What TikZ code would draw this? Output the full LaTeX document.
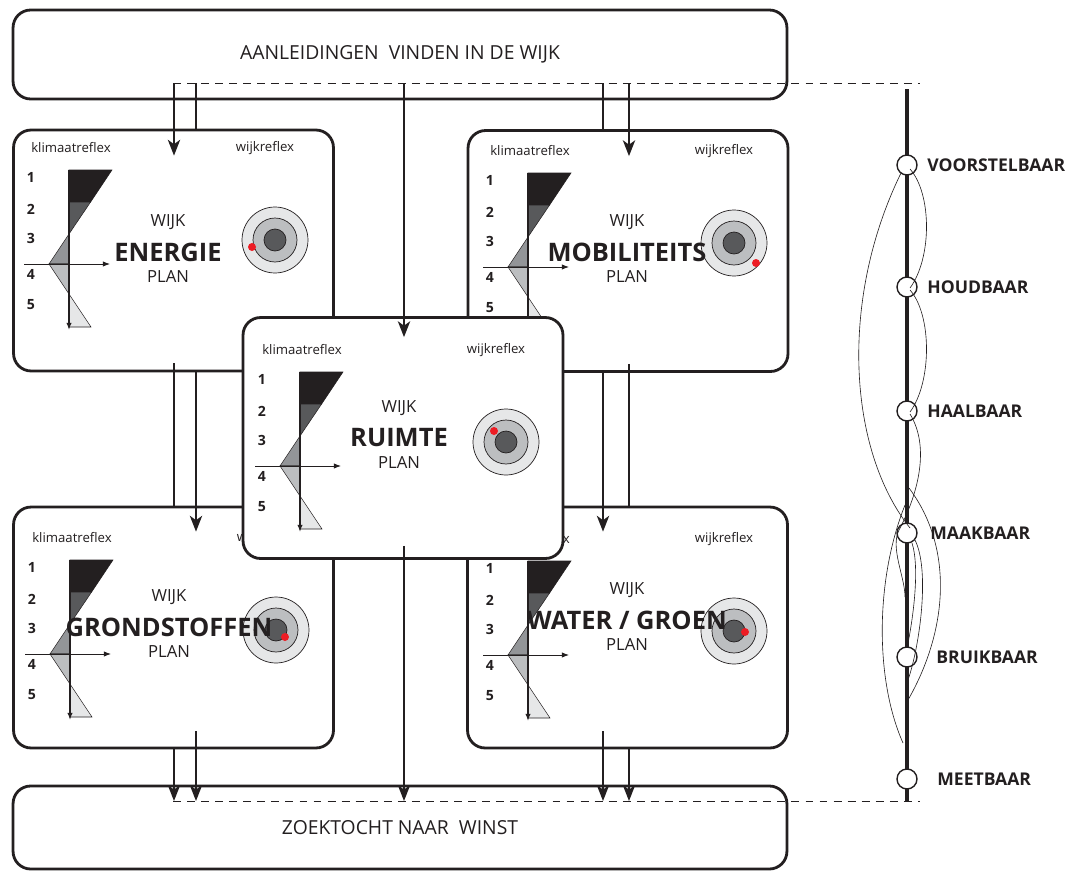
\documentclass[tikz,border=0pt]{standalone}
\usepackage{fontspec}
\setmainfont{Open Sans}
\usetikzlibrary{positioning,calc,arrows.meta}
\definecolor{inkt}{HTML}{231F20}
\definecolor{donker}{HTML}{58595B}
\definecolor{middel}{HTML}{939598}
\definecolor{licht}{HTML}{BCBEC0}
\definecolor{bleek}{HTML}{E6E7E8}
\definecolor{rood}{HTML}{ED1C24}

\begin{document}
\begin{tikzpicture}[x=0.02cm,y=-0.02cm,inkt,
  kader/.style={draw=inkt, line width=1.6pt, rounded corners=10pt, fill=white},
  plan/.style={kader, minimum width=6.4cm, minimum height=4.82cm},
  conn/.style={line width=1.1pt},
  pijl/.style={conn, -{Stealth[length=9pt,width=7pt,inset=2.5pt]}},
  streep/.style={line width=0.5pt, dash pattern=on 4.5pt off 3.5pt},
  vlak/.style={draw=inkt, line width=0.3pt},
  doel/.style={draw=inkt, line width=0.4pt},
  klein/.style={font=\fontsize{7.5}{9}\selectfont, inner sep=0},
  cijfer/.style={font=\bfseries\fontsize{8}{9}\selectfont, inner sep=0},
  wijktekst/.style={font=\fontsize{9.5}{11}\selectfont, inner sep=0},
  titel/.style={font=\bfseries\fontsize{14.5}{16}\selectfont, inner sep=0},
  mijlpaal/.style={circle, draw=inkt, fill=white, line width=0.8pt, minimum size=0.4cm, inner sep=0},
  fase/.style={anchor=west, font=\bfseries\fontsize{10}{12}\selectfont, inner sep=0},
  draad/.style={line width=0.35pt}]
  \useasboundingbox (0,0) rectangle (1085,872);

  % boven en onder
  \node[kader, minimum width=15.48cm, minimum height=1.78cm, font=\fontsize{11}{13}\selectfont] (aanleiding) at (400,54.5) {AANLEIDINGEN~ VINDEN IN DE WIJK};
  \node[kader, minimum width=15.48cm, minimum height=1.66cm, font=\fontsize{11}{13}\selectfont] (zoektocht) at (400,827.5) {ZOEKTOCHT NAAR~ WINST};

  % de vijf wijkplannen, ruimte als laatste bovenop
  \foreach \n/\cx/\cy/\ax/\ay/\titel/\ty/\dx/\dy in {
      energie/173.5/250.5/69/170/ENERGIE/82/-23/7,
      mobiliteits/628/251/528/173/MOBILITEITS/79/22/20,
      grondstoffen/173.5/627.5/70/560/GRONDSTOFFEN/67/9/7,
      water/627.5/627.5/528/561/{WATER / GROEN}/59/11/1,
      ruimte/403/438/300/372/RUIMTE/66/-12/-11} {
    \node[plan] (\n) at (\cx,\cy) {};
    \begin{scope}[shift={(\ax,\ay)}]
      \node[klein] (\n-klimaat) at (2,-22) {klimaatreflex};
      \node[klein] (\n-wijkreflex) at (196,-22) {wijkreflex};
      \foreach \k/\ny in {1/7,2/39,3/68,4/104,5/135}
        \node[cijfer] (\n-\k) at (-38,\ny) {\k};
      \filldraw[vlak, fill=inkt] (0,0) -- (43,0) -- (21.6,32) -- (0,32) -- cycle;
      \filldraw[vlak, fill=donker] (0,32) -- (21.6,32) -- (0,64) -- cycle;
      \filldraw[vlak, fill=middel] (0,64) -- (-20,94) -- (0,94) -- cycle;
      \filldraw[vlak, fill=licht] (0,94) -- (-20,94) -- (0,124) -- cycle;
      \filldraw[vlak, fill=bleek] (0,124) -- (22,157) -- (0,157) -- cycle;
      \draw[line width=1pt, -{Latex[length=4pt,width=3pt]}] (0,0) -- (0,160);
      \draw[line width=0.5pt, -{Latex[length=4pt,width=3pt]}] (-45,94) -- (41,94);
      \draw[doel, fill=bleek] (206,70) circle[radius=0.66cm];
      \draw[doel, fill=licht] (206,70) circle[radius=0.44cm];
      \draw[doel, fill=donker] (206,70) circle[radius=0.22cm];
      \node[wijktekst] (\n-wijk) at (99,\ty-30) {WIJK};
      \node[titel] (\n-titel) at (99,\ty) {\titel};
      \node[wijktekst] (\n-plan) at (99,\ty+25) {PLAN};
      \fill[rood] (206+\dx,70+\dy) circle[radius=0.08cm];
    \end{scope}
  }

  % stippellijnen en tijdas
  \coordinate (boven-l) at (173,83);
  \coordinate (boven-r) at (920,83);
  \coordinate (onder-l) at (173,801);
  \coordinate (onder-r) at (920,801);
  \draw[streep] (boven-l) -- (boven-r);
  \draw[streep] (onder-l) -- (onder-r);
  \coordinate (as-top) at (907,89);
  \coordinate (as-bot) at (907,801);
  \draw[line width=2.4pt] (as-top) -- (as-bot);

  % verbindingen
  \coordinate (xa) at (174,0);
  \coordinate (xb) at (196,0);
  \coordinate (xc) at (404,0);
  \coordinate (xd) at (603,0);
  \coordinate (xe) at (629,0);
  \draw[pijl] (xa |- boven-l) -- ($(energie.north -| xa)+(0,27)$);
  \draw[conn] (xb |- boven-l) -- (energie.north -| xb);
  \draw[pijl] (xc |- boven-l) -- ($(ruimte.north -| xc)+(0,21)$);
  \draw[conn] (xd |- boven-l) -- (mobiliteits.north -| xd);
  \draw[pijl] (xe |- boven-l) -- ($(mobiliteits.north -| xe)+(0,27)$);
  \draw[conn] ($(energie.south -| xa)+(0,-9)$) -- (grondstoffen.north -| xa);
  \draw[pijl] (energie.south -| xb) -- ($(grondstoffen.north -| xb)+(0,26)$);
  \draw[conn] ($(mobiliteits.south -| xe)+(0,-9)$) -- (water.north -| xe);
  \draw[pijl] (mobiliteits.south -| xd) -- ($(water.north -| xd)+(0,26)$);
  \draw[pijl] (grondstoffen.south -| xa) -- (xa |- onder-l);
  \draw[pijl] ($(grondstoffen.south -| xb)+(0,-18)$) -- (xb |- onder-l);
  \draw[pijl] ($(ruimte.south -| xc)+(0,-14)$) -- (xc |- onder-l);
  \draw[pijl] ($(water.south -| xd)+(0,-18)$) -- (xd |- onder-l);
  \draw[pijl] (water.south -| xe) -- (xe |- onder-l);

  % mijlpalen
  \foreach \n/\y/\lx/\t in {voorstelbaar/165/927/VOORSTELBAAR, houdbaar/287/927/HOUDBAAR,
      haalbaar/411/927/HAALBAAR, maakbaar/533/930/MAAKBAAR,
      bruikbaar/657/936/BRUIKBAAR, meetbaar/779/937/MEETBAAR} {
    \node[mijlpaal] (\n) at (907,\y) {};
    \node[fase] (\n-label) at (\lx,\y) {\t};
  }
  \draw[draad] ($(voorstelbaar)+(3,4)$) .. controls +(22,25) and +(22,-30) .. ($(houdbaar)+(3,1)$);
  \draw[draad] ($(houdbaar)+(3,3)$) .. controls +(22,25) and +(22,-30) .. ($(haalbaar)+(3,1)$);
  \draw[draad] ($(haalbaar)+(3,3)$) .. controls +(22,36) and +(16,-30) .. ($(maakbaar)+(-8,-3)$)
     .. controls +(-9,18) and +(0,-20) .. ($(maakbaar)+(-2,64)$);
  \draw[draad] ($(voorstelbaar)+(-6,8)$) .. controls +(-62,127) and +(-62,-78) .. ($(maakbaar)+(3,-5)$);
  \draw[draad] ($(maakbaar)+(-2,-28)$) .. controls +(-30,75) and +(-28,-63) .. ($(meetbaar)+(-4,-36)$);
  \draw[draad] ($(maakbaar)+(5,10)$) .. controls +(8,25) and +(5,-25) .. ($(bruikbaar)+(1,-14)$);
  \draw[draad] ($(maakbaar)+(8,7)$) .. controls +(15,30) and +(12,-35) .. ($(bruikbaar)+(1,23)$);
  \draw[draad] ($(maakbaar)+(2,-45)$) .. controls +(45,60) and +(40,-70) .. ($(bruikbaar)+(1,43)$);
\end{tikzpicture}
\end{document}
